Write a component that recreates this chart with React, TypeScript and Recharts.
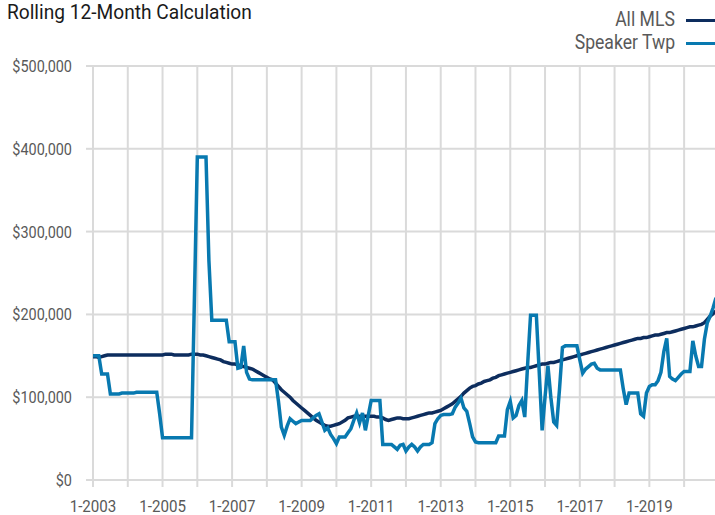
import { CartesianGrid, Line, LineChart, XAxis, YAxis } from "recharts";

const START_YEAR = 2003;
const NAVY = "#0d2d5e";
const BLUE = "#0879b0";
const GRID = "#dadada";
const TEXT = "#595959";
const FONT = "Roboto, sans-serif";

// $ thousands, one row per year, Jan..Dec
const allMlsRows = [
  [149, 149, 148, 149, 150, 151, 151, 151, 151, 151, 151, 151],
  [151, 151, 151, 151, 151, 151, 151, 151, 151, 151, 151, 151],
  [151, 152, 152, 152, 151, 151, 151, 151, 151, 151, 152, 152],
  [152, 151, 151, 150, 149, 148, 147, 146, 145, 143, 142, 141],
  [140, 140, 139, 138, 137, 136, 135, 134, 132, 130, 128, 126],
  [124, 122, 121, 117, 113, 109, 106, 103, 100, 96, 93, 90],
  [87, 84, 81, 78, 75, 72, 70, 68, 66, 65, 65, 66],
  [67, 68, 70, 72, 75, 76, 77, 77, 77, 77, 77, 77],
  [77, 77, 76, 76, 75, 73, 72, 73, 74, 75, 75, 74],
  [74, 74, 75, 76, 77, 78, 79, 80, 81, 81, 82, 83],
  [84, 86, 88, 90, 92, 95, 98, 101, 105, 108, 111, 113],
  [114, 116, 117, 119, 120, 121, 123, 124, 126, 127, 128, 129],
  [130, 131, 132, 133, 134, 135, 136, 136, 137, 138, 139, 140],
  [140, 141, 142, 142, 143, 144, 145, 146, 147, 148, 149, 150],
  [151, 152, 153, 154, 155, 156, 157, 158, 159, 160, 161, 162],
  [163, 164, 165, 166, 167, 168, 169, 170, 171, 171, 172, 172],
  [173, 174, 175, 175, 176, 177, 178, 178, 179, 180, 181, 182],
  [183, 184, 185, 185, 186, 187, 188, 190, 194, 198, 201, 204],
];

const speakerRows = [
  [150, 150, 150, 128, 128, 128, 104, 104, 104, 104, 105, 105],
  [105, 105, 105, 106, 106, 106, 106, 106, 106, 106, 106, 80],
  [51, 51, 51, 51, 51, 51, 51, 51, 51, 51, 51, 220],
  [390, 390, 390, 390, 265, 193, 193, 193, 193, 193, 193, 167],
  [167, 167, 135, 136, 162, 130, 122, 121, 121, 121, 121, 121],
  [121, 121, 121, 121, 95, 64, 54, 65, 74, 71, 68, 70],
  [72, 72, 72, 72, 75, 78, 80, 70, 60, 63, 55, 50],
  [44, 52, 52, 52, 57, 62, 72, 81, 69, 81, 60, 78],
  [96, 96, 96, 96, 43, 43, 43, 43, 40, 37, 42, 43],
  [35, 40, 43, 40, 35, 40, 43, 43, 43, 45, 68, 74],
  [78, 79, 79, 79, 80, 88, 93, 99, 87, 83, 68, 52],
  [46, 45, 45, 45, 45, 45, 45, 45, 53, 53, 53, 85],
  [95, 75, 78, 90, 96, 76, 140, 199, 199, 199, 130, 60],
  [100, 138, 100, 70, 66, 110, 160, 162, 162, 162, 162, 162],
  [145, 129, 134, 137, 140, 141, 135, 133, 133, 133, 133, 133],
  [133, 133, 133, 110, 91, 105, 105, 105, 105, 80, 77, 105],
  [113, 115, 115, 120, 130, 155, 171, 125, 122, 120, 124, 128],
  [131, 131, 131, 168, 150, 137, 137, 170, 190, 198, 208, 220],
];

const allMls = allMlsRows.flat();
const speakerTwp = speakerRows.flat();

const yearTicks = allMlsRows.map((_, i) => i * 12);
const valueTicks = [0, 100000, 200000, 300000, 400000, 500000];

const data = allMls.map((v, i) => ({
  idx: i,
  month: `${(i % 12) + 1}-${START_YEAR + Math.floor(i / 12)}`,
  allMls: v * 1000,
  speakerTwp: speakerTwp[i] * 1000,
}));

const series = [
  { key: "allMls", name: "All MLS", color: NAVY, top: 9 },
  { key: "speakerTwp", name: "Speaker Twp", color: BLUE, top: 32 },
];

function fmtMoney(v: number) {
  return "$" + String(v).replace(/\B(?=(\d{3})+(?!\d))/g, ",");
}

function fmtYear(idx: number) {
  const year = START_YEAR + Math.floor(idx / 12);
  return (year - START_YEAR) % 2 === 0 ? `1-${year}` : "";
}

// narrow-looking tick text (no condensed font available)
function XTick({ x, y, payload }: any) {
  const label = fmtYear(payload.value);
  if (!label) return <g />;
  return (
    <g transform={`translate(${x},${y})`}>
      <text
        transform="scale(0.89,1)"
        textAnchor="middle"
        dy="0.71em"
        fill={TEXT}
        fontSize={17}
        fontFamily={FONT}
      >
        {label}
      </text>
    </g>
  );
}

function YTick({ x, y, payload }: any) {
  return (
    <g transform={`translate(${x},${y})`}>
      <text
        transform="scale(0.85,1)"
        textAnchor="end"
        dy="0.355em"
        fill={TEXT}
        fontSize={17}
        fontFamily={FONT}
      >
        {fmtMoney(payload.value)}
      </text>
    </g>
  );
}

export default function App() {
  return (
    <div
      style={{
        position: "fixed",
        left: 0,
        top: 0,
        width: 715,
        height: 515,
        overflow: "hidden",
        background: "#fff",
        fontFamily: FONT,
      }}
    >
      <div
        style={{
          position: "absolute",
          left: 7,
          top: 2,
          fontSize: 20,
          lineHeight: "20px",
          color: "#1a1a1a",
          whiteSpace: "nowrap",
          transform: "scaleX(0.957)",
          transformOrigin: "left center",
        }}
      >
        Rolling 12-Month Calculation
      </div>

      {/* legend, top right */}
      {series.map((s) => (
        <div key={s.key}>
          <div
            style={{
              position: "absolute",
              right: 40,
              top: s.top,
              fontSize: 20,
              lineHeight: "20px",
              color: TEXT,
              whiteSpace: "nowrap",
              transform: "scaleX(0.88)",
              transformOrigin: "right center",
            }}
          >
            {s.name}
          </div>
          <div
            style={{
              position: "absolute",
              left: 686,
              top: s.top + 10,
              width: 29,
              height: 3,
              background: s.color,
            }}
          />
        </div>
      ))}

      <div style={{ position: "absolute", left: 0, top: 0 }}>
        <LineChart
          width={718}
          height={515}
          data={data}
          margin={{ top: 66, right: 2, left: 0, bottom: 0 }}
        >
          <CartesianGrid stroke={GRID} strokeWidth={2} />
          <XAxis
            dataKey="idx"
            type="number"
            domain={[0, allMls.length - 1]}
            ticks={yearTicks}
            interval={0}
            height={35}
            axisLine={false}
            tickLine={{ stroke: GRID, strokeWidth: 2 }}
            tickSize={7}
            tickMargin={13}
            tick={<XTick />}
          />
          <YAxis
            domain={[0, 500000]}
            ticks={valueTicks}
            width={93}
            axisLine={false}
            tickLine={{ stroke: GRID, strokeWidth: 2 }}
            tickSize={7}
            tickMargin={14}
            tick={<YTick />}
          />
          {series.map((s) => (
            <Line
              key={s.key}
              type="linear"
              dataKey={s.key}
              name={s.name}
              stroke={s.color}
              strokeWidth={3.5}
              dot={false}
              isAnimationActive={false}
            />
          ))}
        </LineChart>
      </div>
    </div>
  );
}
